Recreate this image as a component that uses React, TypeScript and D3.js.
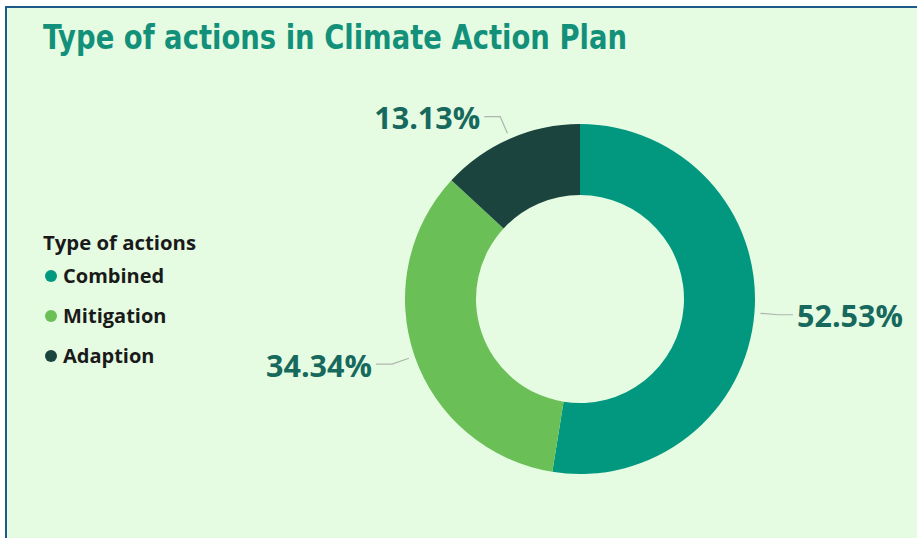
import React from "react";
import * as d3 from "d3";

const categories = ["Combined", "Mitigation", "Adaption"];
const counts = [52, 34, 13];
const colors = ["#02977F", "#6BBF57", "#1B443F"];
const titleText = "Type of actions in Climate Action Plan";
const legendTitle = "Type of actions";

const W = 917;
const H = 538;

export default function App() {
  const cx = 580;
  const cy = 299;
  const R = 175;
  const r0 = 104;
  const total = d3.sum(counts);
  const pie = d3.pie<number>().sort(null).value((d) => d);
  const arcs = pie(counts);
  const arcGen = d3.arc<d3.PieArcDatum<number>>().innerRadius(r0).outerRadius(R);
  const fmt = (v: number) => ((v / total) * 100).toFixed(2) + "%";

  return (
    <div style={{ position: "fixed", left: 0, top: 0 }}>
      <svg width={W} height={H} style={{ display: "block" }}>
        <rect x={0} y={0} width={W} height={H} fill="#ffffff" />
        <rect x={6} y={7} width={W} height={H} fill="#E5FCE2" />
        <line x1={5} y1={7} x2={W} y2={7} stroke="#1E5A8A" strokeWidth={2} />
        <line x1={6} y1={6} x2={6} y2={H} stroke="#1E5A8A" strokeWidth={2} />
        <text
          x={43}
          y={49}
          fontFamily="'DejaVu Sans Condensed', 'DejaVu Sans'"
          fontWeight="bold"
          fontSize={33}
          fill="#13907A"
          textLength={584}
          lengthAdjust="spacingAndGlyphs"
        >
          {titleText}
        </text>
        <text x={43} y={250} fontFamily="'Open Sans'" fontWeight="bold" fontSize={20} fill="#1a1a1a" textLength={153} lengthAdjust="spacingAndGlyphs">
          {legendTitle}
        </text>
        {categories.map((c, i) => (
          <g key={c} transform={`translate(0, ${276 + i * 40})`}>
            <circle cx={51} cy={0} r={6} fill={colors[i]} />
            <text x={63} y={0} dy="0.35em" fontFamily="'Open Sans'" fontWeight="bold" fontSize={20} fill="#1a1a1a">
              {c}
            </text>
          </g>
        ))}
        <g transform={`translate(${cx}, ${cy})`}>
          {arcs.map((a, i) => (
            <path key={i} d={arcGen(a) || ""} fill={colors[i]} />
          ))}
          {arcs.map((a, i) => {
            const mid = (a.startAngle + a.endAngle) / 2;
            const p1 = [Math.sin(mid) * (R + 6), -Math.cos(mid) * (R + 6)];
            const p2 = [Math.sin(mid) * (R + 24), -Math.cos(mid) * (R + 24)];
            const right = Math.sin(mid) > 0;
            const p3x = right ? Math.max(p2[0], 213) : p2[0] - 16;
            const tx = right ? p3x + 4 : p3x - 4;
            return (
              <g key={"l" + i}>
                <polyline
                  points={`${p1[0]},${p1[1]} ${p2[0]},${p2[1]} ${p3x},${p2[1]}`}
                  fill="none"
                  stroke="#AEB5AE"
                  strokeWidth={1.2}
                />
                <text
                  x={tx}
                  y={p2[1] + 2}
                  dy="0.35em"
                  textAnchor={right ? "start" : "end"}
                  fontFamily="'Open Sans'"
                  fontWeight="bold"
                  fontSize={30.5}
                  fill="#17695D"
                >
                  {fmt(counts[i])}
                </text>
              </g>
            );
          })}
        </g>
      </svg>
    </div>
  );
}
